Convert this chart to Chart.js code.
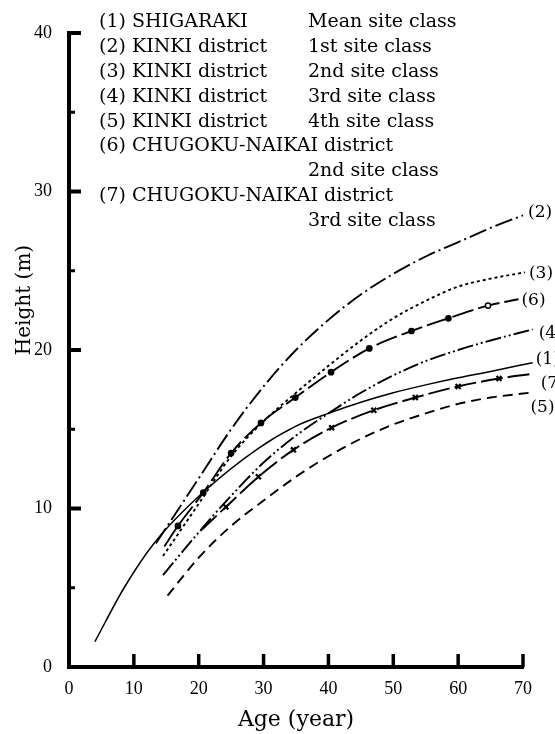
<!DOCTYPE html>
<html>
<head>
<meta charset="utf-8">
<script src="https://cdn.jsdelivr.net/npm/chart.js@4.4.0/dist/chart.umd.min.js"></script>
<style>
  html, body { margin: 0; background: #fff; }
</style>
</head>
<body>
<canvas id="chart" width="555" height="734"></canvas>
<script>
// values (age in years, height in m)
const ageMajor = [10, 20, 30, 40, 50, 60, 70]
const heightMajor = [10, 20, 30, 40]
const heightMinor = [5, 15, 25, 35]

const tags = ['(1)', '(2)', '(3)', '(4)', '(5)', '(6)', '(7)']

const s1Age = [4, 8.5, 13.3, 20.9, 29.2, 35, 40, 45, 50, 55, 60, 65, 71.5]
const s1Height = [1.6, 5.0, 7.9, 11.1, 13.8, 15.2, 16.0, 16.7, 17.3, 17.8, 18.25, 18.65, 19.2]

const s2Age = [13.4, 20, 25, 30, 35, 40, 45, 50, 55, 60, 65, 70]
const s2Height = [7.8, 11.9, 15.0, 17.7, 20.0, 21.9, 23.5, 24.8, 25.9, 26.8, 27.7, 28.5]

const s3Age = [14.5, 20, 25, 30, 35, 40, 45, 50, 55, 60, 65, 70.3]
const s3Height = [7.0, 10.3, 13.3, 15.5, 17.3, 19.0, 20.6, 22.0, 23.1, 24.0, 24.5, 24.9]

const s4Age = [14.5, 20, 25, 30, 35, 40, 45, 50, 55, 60, 65, 71.5]
const s4Height = [5.8, 8.5, 10.8, 12.9, 14.6, 16.0, 17.3, 18.4, 19.3, 20.0, 20.6, 21.3]

const s5Age = [15.2, 20, 25, 30, 35, 40, 45, 50, 55, 60, 65, 71]
const s5Height = [4.5, 6.9, 8.9, 10.5, 12.0, 13.3, 14.4, 15.3, 16.0, 16.6, 17.0, 17.3]

const s6Age = [14.7, 16.8, 20.7, 25, 29.6, 34.9, 40.4, 46.3, 52.8, 58.5, 64.6, 69.3]
const s6Height = [7.6, 8.9, 11.0, 13.5, 15.4, 17.0, 18.6, 20.1, 21.2, 22.0, 22.8, 23.2]

const s7Age = [20.3, 24.2, 29.2, 34.6, 40.5, 47, 53.4, 60, 66.3, 71.5]
const s7Height = [8.6, 10.1, 12.0, 13.7, 15.1, 16.2, 17.0, 17.7, 18.2, 18.5]

const legendLeft = [
    '(1) SHIGARAKI',
    '(2) KINKI district',
    '(3) KINKI district',
    '(4) KINKI district',
    '(5) KINKI district',
    '(6) CHUGOKU-NAIKAI district',
    '',
    '(7) CHUGOKU-NAIKAI district',
    '',
]
const legendRight = [
    'Mean site class',
    '1st site class',
    '2nd site class',
    '3rd site class',
    '4th site class',
    '',
    '2nd site class',
    '',
    '3rd site class',
]

const pts = (ages, heights) => ages.map((a, i) => ({ x: a, y: heights[i] }))
const inner = (n, v) => [...Array(n)].map((_, i) => (i === 0 || i === n - 1 ? 0 : v))

const serif = 'DejaVu Serif'
const numFont = 'Liberation Serif'

const line = (data, dash, extra) =>
    Object.assign(
        {
            data: data,
            borderColor: '#000',
            backgroundColor: '#000',
            borderWidth: 1.9,
            borderDash: dash,
            pointRadius: 0,
            fill: false,
            clip: false,
            cubicInterpolationMode: 'monotone',
        },
        extra || {},
    )

const datasets = [
    line(pts(s1Age, s1Height), [], { borderWidth: 1.5 }),
    line(pts(s2Age, s2Height), [18, 4, 2, 4]),
    line(pts(s3Age, s3Height), [3, 3]),
    line(pts(s4Age, s4Height), [16, 3, 2, 3, 2, 3]),
    line(pts(s5Age, s5Height), [10, 6]),
    line(pts(s6Age, s6Height), [22, 5], {
        pointRadius: inner(s6Age.length, 2.6),
        pointStyle: 'circle',
        pointBackgroundColor: s6Age.map((a, i) => (i === s6Age.length - 2 ? '#fff' : '#000')),
        pointBorderWidth: 1.5,
    }),
    line(pts(s7Age, s7Height), [22, 5], {
        pointRadius: inner(s7Age.length, 3.5),
        pointStyle: 'crossRot',
        pointBorderWidth: 2.2,
    }),
]
// tag order in datasets: (1)..(7); offsets to sit labels where the figure has them
const tagDx = [3, 5, 4, 6, 1, 3, 8]
const tagDy = [-3, -3, 1, 4, 15, 1, 10]

const decorations = {
    id: 'decorations',
    afterDraw(chart) {
        const { ctx, chartArea, scales } = chart
        const x = scales.x
        const y = scales.y
        ctx.save()
        ctx.strokeStyle = '#000'
        ctx.fillStyle = '#000'
        ctx.lineCap = 'butt'

        // inward tick marks
        heightMajor.forEach((v) => {
            const py = y.getPixelForValue(v)
            ctx.lineWidth = 4
            ctx.beginPath()
            ctx.moveTo(chartArea.left, py)
            ctx.lineTo(chartArea.left + 12, py)
            ctx.stroke()
        })
        heightMinor.forEach((v) => {
            const py = y.getPixelForValue(v)
            ctx.lineWidth = 3
            ctx.beginPath()
            ctx.moveTo(chartArea.left, py)
            ctx.lineTo(chartArea.left + 6, py)
            ctx.stroke()
        })
        ageMajor.forEach((v) => {
            const px = x.getPixelForValue(v)
            ctx.lineWidth = 3.5
            ctx.beginPath()
            ctx.moveTo(px, chartArea.bottom)
            ctx.lineTo(px, chartArea.bottom - 13)
            ctx.stroke()
        })

        // curve tags at the right end
        ctx.font = '17px "' + serif + '"'
        ctx.textBaseline = 'middle'
        ctx.textAlign = 'left'
        chart.data.datasets.forEach((ds, i) => {
            const last = ds.data[ds.data.length - 1]
            const px = x.getPixelForValue(last.x) + tagDx[i]
            const py = y.getPixelForValue(last.y) + tagDy[i]
            ctx.fillText(tags[i], px, py)
        })

        // legend block
        ctx.font = '19px "' + serif + '"'
        legendLeft.forEach((t, i) => {
            ctx.fillText(t, 99, 22 + i * 24.9)
        })
        legendRight.forEach((t, i) => {
            ctx.fillText(t, 308, 22 + i * 24.9)
        })

        // y axis title
        ctx.font = '20px "' + serif + '"'
        ctx.textAlign = 'center'
        ctx.translate(25, 300)
        ctx.rotate(-Math.PI / 2)
        ctx.fillText('Height (m)', 0, 0)
        ctx.restore()
    },
}

new Chart(document.getElementById('chart').getContext('2d'), {
    type: 'line',
    data: { datasets: datasets },
    options: {
        responsive: false,
        animation: false,
        layout: { padding: { top: 33, right: 32, left: 0, bottom: 0 } },
        plugins: { legend: { display: false }, tooltip: { enabled: false } },
        scales: {
            x: {
                type: 'linear',
                min: 0,
                max: 70,
                afterFit: (scale) => {
                    scale.height = 67
                },
                grid: { display: false },
                border: { display: true, width: 4, color: '#000' },
                ticks: {
                    stepSize: 10,
                    color: '#000',
                    padding: 3,
                    font: { family: numFont, size: 18 },
                },
                title: {
                    display: true,
                    text: 'Age (year)',
                    color: '#000',
                    font: { family: serif, size: 22 },
                    padding: { top: 0, bottom: 1 },
                },
            },
            y: {
                type: 'linear',
                min: 0,
                max: 40,
                afterFit: (scale) => {
                    scale.width = 69
                },
                grid: { display: false },
                border: { display: true, width: 4, color: '#000' },
                ticks: {
                    stepSize: 10,
                    color: '#000',
                    padding: 9,
                    font: { family: numFont, size: 18 },
                },
            },
        },
    },
    plugins: [decorations],
})
</script>
</body>
</html>
